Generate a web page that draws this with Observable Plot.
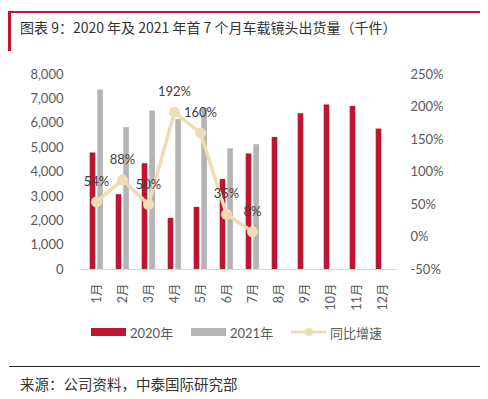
<!DOCTYPE html>
<html>
<head>
<meta charset="utf-8">
<script src="https://cdn.jsdelivr.net/npm/d3@7"></script>
<script src="https://cdn.jsdelivr.net/npm/@observablehq/plot@0.6"></script>
<style>
  html, body { margin: 0; padding: 0; background: #fff; }
  #wrap { position: relative; width: 488px; height: 399px; overflow: hidden; font-family: Lato, "Noto Sans CJK SC", sans-serif; }
  #title { position: absolute; left: 8px; top: 11px; width: 472px; height: 40px; border-top: 2.5px solid #c8102e; border-left: 3px solid #c8102e; box-sizing: border-box; }
  #title span { position: absolute; left: 9px; top: 4px; font-size: 14px; color: #333; font-family: "Noto Sans CJK SC", sans-serif; white-space: nowrap; }
  #chart { position: absolute; left: 0; top: 50px; }
  #legend { position: absolute; top: 323px; left: 0; width: 488px; height: 18px; font-size: 13px; color: #595959; }
  .li { position: absolute; top: 0; display: flex; align-items: center; height: 18px; }
  .sw { width: 35px; height: 8px; margin-right: 4px; }
  #footer { position: absolute; left: 9px; top: 366px; width: 471px; border-top: 1px solid #222; }
  #source { position: absolute; left: 20px; top: 373px; font-size: 14.5px; color: #333; font-family: "Noto Sans CJK SC", sans-serif; }
</style>
</head>
<body>
<div id="wrap">
  <div id="title"><span>图表 9：2020 年及 2021 年首 7 个月车载镜头出货量（千件）</span></div>
  <div id="chart"></div>
  <div id="legend"></div>
  <div id="footer"></div>
  <div id="source">来源：公司资料，中泰国际研究部</div>
</div>
<script>
const months = ["1月","2月","3月","4月","5月","6月","7月","8月","9月","10月","11月","12月"];
const v2020 = [4780, 3070, 4340, 2100, 2550, 3690, 4740, 5420, 6390, 6750, 6690, 5760];
const v2021 = [7360, 5820, 6500, 6150, 6600, 4950, 5120];
const growth = [54, 88, 50, 192, 160, 35, 8];
const leftTicks = [0, 1000, 2000, 3000, 4000, 5000, 6000, 7000, 8000];
const rightTicks = [-50, 0, 50, 100, 150, 200, 250];
const seriesNames = ["2020年", "2021年", "同比增速"];

const RED = "#be1530", GREY = "#b4b4b4", BEIGE = "#efdcb5", TXT = "#595959";
const yMax = 8000, pMin = -50, pMax = 250;
const toLeft = p => (p - pMin) / (pMax - pMin) * yMax;
const toPct = v => v / yMax * (pMax - pMin) + pMin;

const d2020 = months.map((m, i) => ({month: m, value: v2020[i]}));
const d2021 = v2021.map((v, i) => ({month: months[i], value: v}));
const dGrowth = growth.map((g, i) => ({month: months[i], g, y: toLeft(g)}));

const chart = Plot.plot({
  width: 488,
  height: 260,
  marginLeft: 80,
  marginRight: 91,
  marginTop: 24,
  marginBottom: 41,
  style: {fontFamily: 'Lato, "Noto Sans CJK SC", sans-serif', fontSize: "13px", color: TXT, background: "transparent"},
  x: {type: "band", domain: months, padding: 0, label: null},
  y: {domain: [0, yMax], label: null},
  marks: [
    Plot.axisY(leftTicks, {anchor: "left", tickSize: 0, tickPadding: 17, tickFormat: d => d3.format(",")(d), label: null, fill: TXT, fontSize: 13}),
    Plot.axisY(rightTicks.map(toLeft), {anchor: "right", tickSize: 0, tickPadding: 13, tickFormat: v => Math.round(toPct(v)) + "%", label: null, fill: TXT, fontSize: 13}),
    Plot.axisX({tickSize: 0, tickPadding: 14, tickRotate: -90, label: null, fill: TXT, fontSize: 12.5}),
    Plot.barY(d2020, {x: "month", y: "value", fill: RED, insetLeft: 6.7, insetRight: 13.7}),
    Plot.barY(d2021, {x: "month", y: "value", fill: GREY, insetLeft: 14.3, insetRight: 6.1}),
    Plot.ruleY([0], {stroke: "#d9d9d9", strokeWidth: 1}),
    Plot.line(dGrowth, {x: "month", y: "y", stroke: BEIGE, strokeWidth: 3.5}),
    Plot.dot(dGrowth, {x: "month", y: "y", r: 5.5, fill: BEIGE, stroke: "none"}),
    Plot.text(dGrowth, {x: "month", y: "y", text: d => d.g + "%", dy: -20, fill: "#404040", fontSize: 13})
  ]
});
document.getElementById("chart").appendChild(chart);

const legend = document.getElementById("legend");
const items = [
  {name: seriesNames[0], left: 91, html: `<div class="sw" style="background:${RED}"></div>`},
  {name: seriesNames[1], left: 191, html: `<div class="sw" style="background:${GREY}"></div>`},
  {name: seriesNames[2], left: 291, html: `<svg width="35" height="10" style="margin-right:4px"><line x1="0" y1="5" x2="35" y2="5" stroke="${BEIGE}" stroke-width="3"/><circle cx="18" cy="5" r="4" fill="${BEIGE}"/></svg>`}
];
for (const it of items) {
  const d = document.createElement("div");
  d.className = "li";
  d.style.left = it.left + "px";
  d.innerHTML = it.html + `<span>${it.name}</span>`;
  legend.appendChild(d);
}
</script>
</body>
</html>
